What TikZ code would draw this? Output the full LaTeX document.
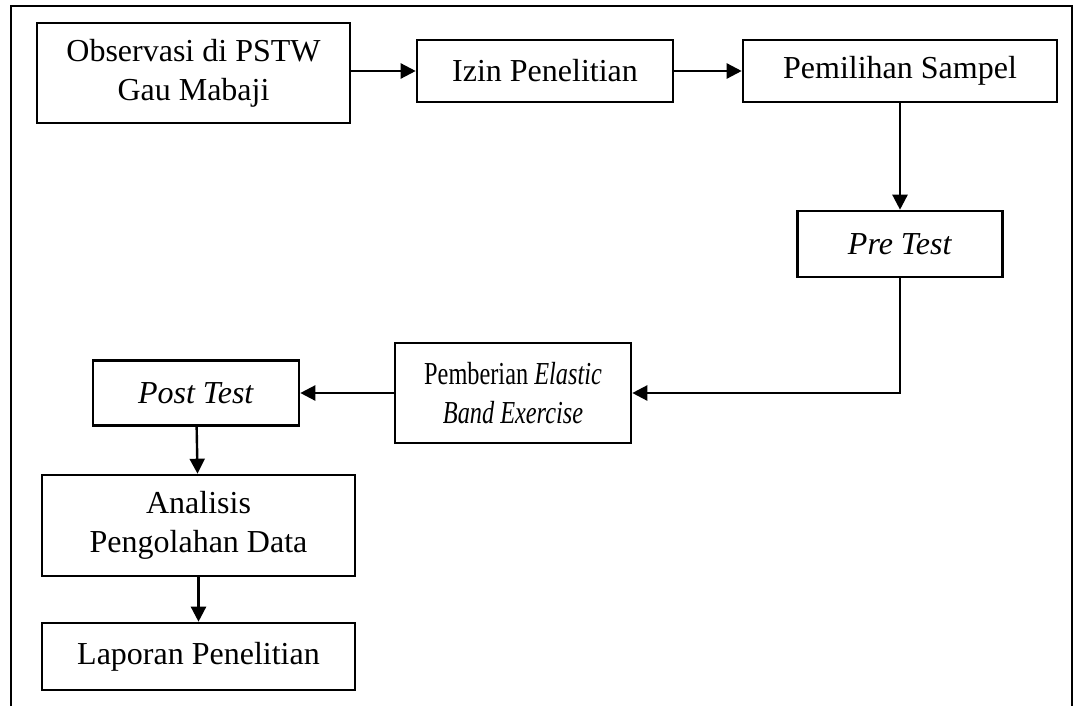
\documentclass[tikz,border=0pt]{standalone}
\usepackage{fontspec}
\setmainfont{Liberation Serif}
\usetikzlibrary{arrows.meta}

\begin{document}
\begin{tikzpicture}[x=1pt,y=1pt]
	\tikzstyle{tahap}=[rectangle,draw,line width=1.3pt,align=center,inner sep=2pt,font=\fontsize{16}{19.5}\selectfont]
	\tikzstyle{panah}=[line width=1.2pt,-{Triangle[length=7.5pt,width=7.5pt]}]
	\useasboundingbox (0,0) rectangle (537,-353);
	
	% bingkai luar
	\draw[line width=1.3pt] (5.5,-353) -- (5.5,-3) -- (536,-3) -- (536,-353);
	
	\node[tahap,minimum width=156.5pt,minimum height=50pt](obs) at (96.75,-36.5){Observasi di PSTW\\Gau Mabaji};
	\node[tahap,minimum width=128pt,minimum height=31pt](izin) at (272.5,-35.5){Izin Penelitian};
	\node[tahap,minimum width=157pt,minimum height=31pt](sampel) at (450,-35.5){Pemilihan Sampel};
	\node[tahap,minimum width=102.5pt,minimum height=33pt](pre) at (450,-122){\textit{Pre Test}};
	\node[tahap,minimum width=118pt,minimum height=50pt](elastic) at (256.5,-196.5){\scalebox{0.76}[1]{Pemberian \textit{Elastic}}\\\scalebox{0.76}[1]{\textit{Band Exercise}}};
	\node[tahap,minimum width=103pt,minimum height=32.5pt](post) at (98,-196.5){\textit{Post Test}};
	\node[tahap,minimum width=156.5pt,minimum height=50.5pt](analisis) at (99.25,-262.75){Analisis\\Pengolahan Data};
	\node[tahap,minimum width=156.5pt,minimum height=33.5pt](laporan) at (99.25,-328.25){Laporan Penelitian};
	
	\draw[panah] (izin.west -| obs.east) -- (izin.west);
	\draw[panah] (izin) -- (sampel);
	\draw[panah] (sampel) -- (pre);
	\draw[panah] (pre.south) |- (elastic.east);
	\draw[panah] (elastic) -- (post);
	\draw[panah] (post) -- (analisis);
	\draw[panah] (analisis) -- (laporan);
\end{tikzpicture}
\end{document}
